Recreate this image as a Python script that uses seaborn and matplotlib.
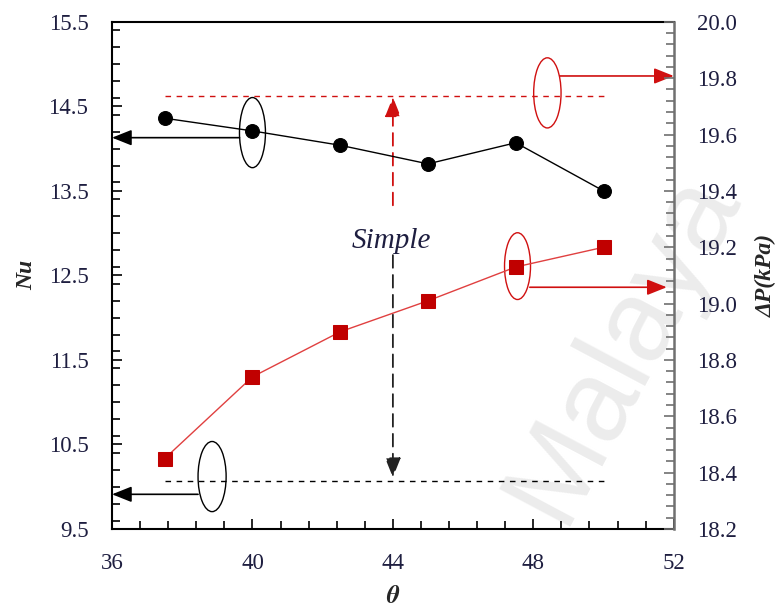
import numpy as np
import pandas as pd
import matplotlib
matplotlib.use("Agg")
import matplotlib.pyplot as plt
import seaborn as sns
from matplotlib.patches import Ellipse
from matplotlib.ticker import MultipleLocator, FormatStrFormatter

# ---- data ----
theta = [37.5, 40, 42.5, 45, 47.5, 50]
nu = [14.36, 14.21, 14.04, 13.82, 14.07, 13.50]
dp = [18.45, 18.74, 18.90, 19.01, 19.13, 19.20]
simple_dp = 19.737      # simple channel pressure drop (right axis)
simple_nu = 10.07       # simple channel Nusselt number (left axis)
simple_range = [37.5, 50]

x_ticks = [36, 40, 44, 48, 52]
nu_ticks = [9.5, 10.5, 11.5, 12.5, 13.5, 14.5, 15.5]
dp_ticks = [18.2, 18.4, 18.6, 18.8, 19.0, 19.2, 19.4, 19.6, 19.8, 20.0]

sns.set_theme(style="white")
plt.rcParams['font.family'] = ['Liberation Serif', 'DejaVu Serif']
plt.rcParams['mathtext.fontset'] = 'stix'

fig = plt.figure(figsize=(7.78, 6.08), dpi=100, facecolor='white')

# watermark behind everything
fig.text(0.80, 0.43, "Malaya", fontsize=84, color='#ececec', rotation=62,
         ha='center', va='center', zorder=-10, family='Liberation Sans')

ax = fig.add_axes([0.144, 0.130, 0.722, 0.834])
ax.patch.set_alpha(0)
ax2 = ax.twinx()
ax2.patch.set_alpha(0)

df = pd.DataFrame({"theta": theta, "nu": nu, "dp": dp})
sns.lineplot(data=df, x="theta", y="nu", ax=ax, color="black", lw=1.0,
             marker="o", markersize=10, markeredgecolor="black", zorder=5)
sns.lineplot(data=df, x="theta", y="dp", ax=ax2, color="#e04040", lw=1.0,
             marker="s", markersize=10.5, markerfacecolor="#c00000",
             markeredgecolor="#c00000", zorder=5)

# simple channel references
ax2.plot(simple_range, [simple_dp, simple_dp], color="#d01010", lw=1.0,
         dashes=(4, 4))
ax.plot(simple_range, [simple_nu, simple_nu], color="black", lw=1.0,
        dashes=(4, 4))

ax.set_xlim(36, 52)
ax.set_ylim(9.5, 15.5)
ax2.set_ylim(18.2, 20.0)
ax.set_xticks(x_ticks)
ax.set_yticks(nu_ticks)
ax2.set_yticks(dp_ticks)
ax.xaxis.set_minor_locator(MultipleLocator(0.8))
ax.yaxis.set_minor_locator(MultipleLocator(0.2))
ax2.yaxis.set_minor_locator(MultipleLocator(0.04))
ax.yaxis.set_major_formatter(FormatStrFormatter('%.1f'))
ax2.yaxis.set_major_formatter(FormatStrFormatter('%.1f'))

lab_col = "#1e1e40"
ax.tick_params(axis='both', which='major', direction='in', length=7, width=1.2,
               labelsize=16.5, colors='black', labelcolor=lab_col, pad=17)
ax.tick_params(axis='both', which='minor', direction='in', length=6, width=1.2,
               colors='black')
ax.tick_params(axis='y', which='both', left=True, right=False)
ax.tick_params(axis='x', which='both', bottom=True, top=False)
ax2.tick_params(axis='y', which='major', direction='in', length=7, width=1.2,
                labelsize=16.5, colors='#707070', labelcolor=lab_col, pad=17)
ax2.tick_params(axis='y', which='minor', direction='in', length=6, width=1.2,
                colors='#707070')

for s in ['left', 'bottom', 'top']:
    ax.spines[s].set_color('black')
    ax.spines[s].set_linewidth(1.5)
ax.spines['right'].set_visible(False)
for s in ['left', 'bottom', 'top']:
    ax2.spines[s].set_visible(False)
ax2.spines['right'].set_color('#707070')
ax2.spines['right'].set_linewidth(1.8)

ax.set_xlabel(r"$\boldsymbol{\theta}$", fontsize=18, labelpad=9)
ax.set_ylabel("Nu", fontsize=17, fontstyle='italic', fontweight='bold',
              labelpad=8)
ax2.set_ylabel("ΔP(kPa)", fontsize=17, fontstyle='italic', fontweight='bold',
               rotation=90, labelpad=13)

# annotations (left-axis data coords)
ax.add_patch(Ellipse((40.0, 14.19), 0.74, 0.83, fill=False, ec='black', lw=1.0, zorder=6))
ax.add_patch(Ellipse((48.4, 14.66), 0.78, 0.83, fill=False, ec='#d01010', lw=1.0, zorder=6))
ax.add_patch(Ellipse((47.55, 12.61), 0.74, 0.79, fill=False, ec='#d01010', lw=1.0, zorder=6))
ax.add_patch(Ellipse((38.85, 10.12), 0.80, 0.83, fill=False, ec='black', lw=1.0, zorder=6))

def arrow(x0, y0, x1, y1, color, ls='-'):
    ax.annotate("", xy=(x1, y1), xytext=(x0, y0),
                arrowprops=dict(arrowstyle='-|>,head_length=1.0,head_width=0.4',
                                color=color, lw=1.2, linestyle=ls,
                                shrinkA=0, shrinkB=0), zorder=7)

arrow(39.63, 14.13, 36.0, 14.13, 'black')
arrow(48.75, 14.86, 52.0, 14.86, '#d01010')
arrow(47.9, 12.36, 51.8, 12.36, '#d01010')
arrow(38.45, 9.91, 36.0, 9.91, 'black')

ax.annotate("", xy=(44.0, 14.61), xytext=(44.0, 13.33),
            arrowprops=dict(arrowstyle='-|>,head_length=1.0,head_width=0.4',
                            color='#d01010', lw=1.3, linestyle=(0, (7, 4)),
                            shrinkA=0, shrinkB=0))
ax.annotate("", xy=(44.0, 10.11), xytext=(44.0, 12.74),
            arrowprops=dict(arrowstyle='-|>,head_length=1.0,head_width=0.4',
                            color='#222222', lw=1.3, linestyle=(0, (7, 4)),
                            shrinkA=0, shrinkB=0))
ax.text(43.95, 12.91, "Simple", fontsize=21, fontstyle='italic',
        color='#1e1e40', ha='center', va='center')

fig.savefig("out.png", dpi=100, facecolor='white')
